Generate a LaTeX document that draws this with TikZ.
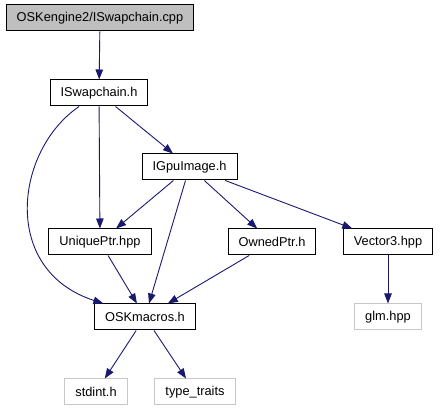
\documentclass[tikz,border=0pt]{standalone}
\usepackage{fontspec}
\setmainfont{Liberation Sans}
\usetikzlibrary{arrows.meta}
\definecolor{edgeblue}{HTML}{191970}
\begin{document}
\begin{tikzpicture}[x=1pt,y=-1pt,font=\fontsize{12.8}{15}\selectfont,
	file/.style={draw=black,line width=1pt,inner xsep=10.5pt,inner ysep=0pt,minimum height=26pt},
	sysfile/.style={file,draw=black!22},
	dep/.style={draw=edgeblue,line width=0.9pt,-{Triangle[length=10pt,width=7.5pt]}}]
	\useasboundingbox (0,0) rectangle (440,411);
	\node[file,fill=black!25] (cpp) at (100,18) {OSKengine2/ISwapchain.cpp};
	\foreach \n/\x/\y/\t in {swap/99/93/ISwapchain.h, gpu/189.5/167/IGpuImage.h,
		uniq/100/242/UniquePtr.hpp, owned/272/242/OwnedPtr.h, vec/388/242/Vector3.hpp,
		osk/145/317/OSKmacros.h}{
		\node[file] (\n) at (\x,\y) {\t};
	}
	\foreach \n/\x/\y/\t in {glm/388/317/glm.hpp, stdint/96/392/stdint.h, traits/195/392/type\_traits}{
		\node[sysfile] (\n) at (\x,\y) {\t};
	}
	\foreach \a/\b in {cpp/swap, swap/uniq, swap/gpu, gpu/uniq, gpu/osk, gpu/owned, gpu/vec,
		uniq/osk, owned/osk, vec/glm, osk/stdint, osk/traits}{
		\draw[dep] (\a) -- (\b);
	}
	\draw[dep] (swap) .. controls (15,150) and (0,270) .. (osk);
\end{tikzpicture}
\end{document}
